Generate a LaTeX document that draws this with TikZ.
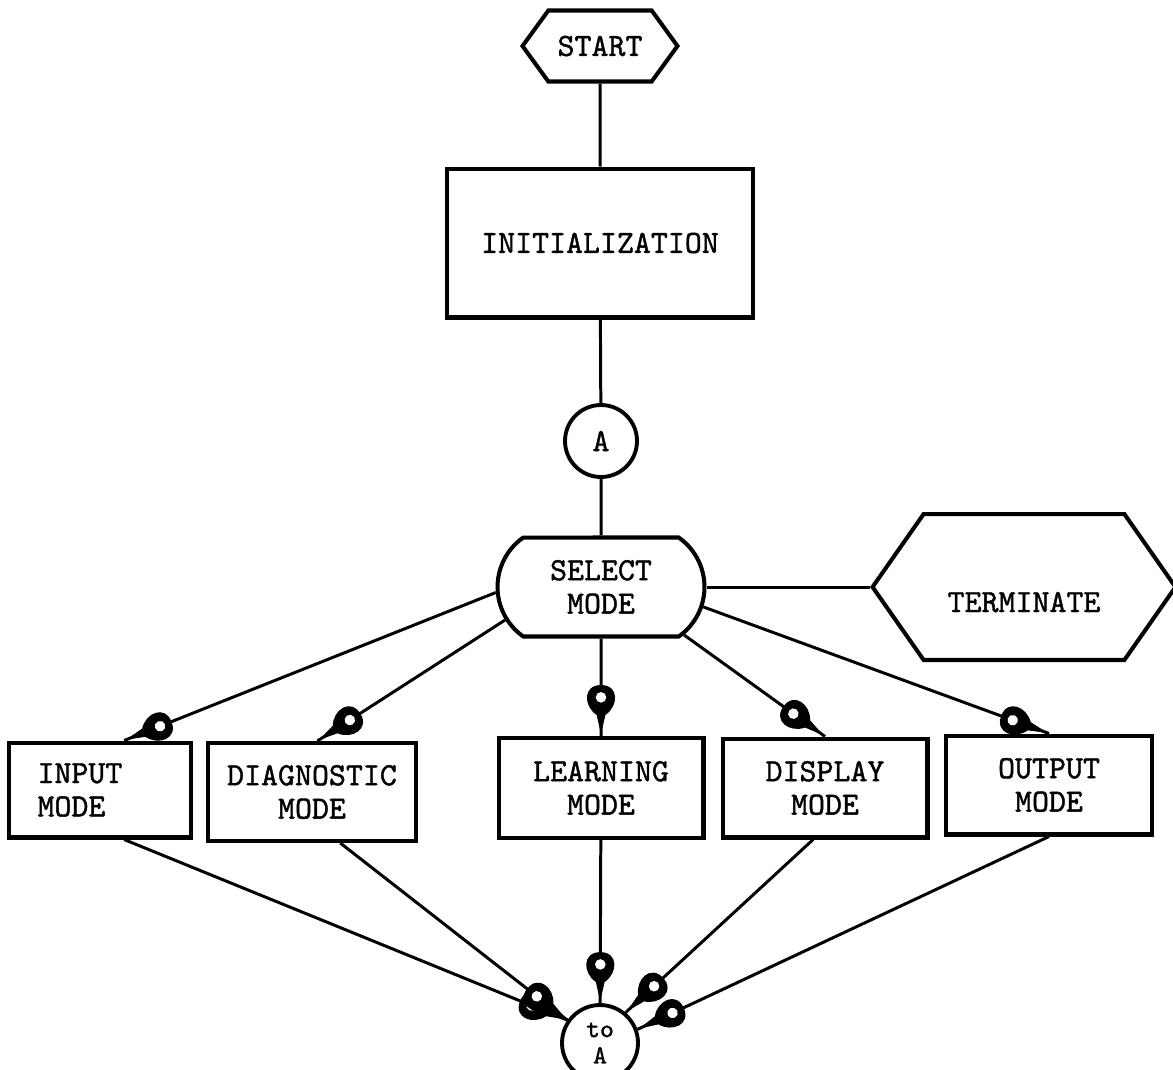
\documentclass[tikz,border=0pt]{standalone}
\usepackage{fontspec}
\setmonofont[FakeBold=1.2]{lmmono10-regular.otf}
\usetikzlibrary{shapes.symbols,shapes.misc,decorations.markings}

\newcommand{\chartfont}{\ttfamily\fontsize{18.4}{19}\selectfont}
% the funnel shaped arrow head, tip at the origin
\newcommand{\funnel}{%
  \fill (0,0) -- (-11pt,2.5pt) .. controls (-16pt,10pt) and (-28pt,10.5pt) .. (-28pt,0)
        .. controls (-28pt,-10.5pt) and (-16pt,-10pt) .. (-11pt,-2.5pt) -- cycle;
  \fill[white] (-21pt,0) circle (3pt);}

\tikzset{
  box/.style={draw, line width=2.3pt, inner sep=0pt, font=\chartfont, align=center},
  hexbox/.style={box, signal, signal to=west and east},
  conn/.style={draw, circle, line width=2.2pt, inner sep=0pt, font=\chartfont, align=center},
  link/.style={line width=1.7pt},
  flowto/.style={link, postaction={decorate}, decoration={markings,
      mark=at position -1pt with {\funnel}}}
}

\begin{document}
\begin{tikzpicture}[x=0.02cm, y=-0.02cm]
\useasboundingbox (0,0) rectangle (1173,1069);

% top of the chart
\node[hexbox, minimum width=3.1cm, minimum height=1.42cm, signal pointer angle=108] (start) at (600,46) {START};
\node[box, minimum width=6.12cm, minimum height=2.98cm] (init) at (600,243) {INITIALIZATION};
\node[conn, minimum size=1.44cm] (a) at (601,441) {A};
\node[box, rounded rectangle, rounded rectangle arc length=110, minimum width=4.14cm, minimum height=1.98cm] (select) at (601,587) {SELECT\\MODE};
\node[hexbox, minimum width=6.06cm, minimum height=2.92cm, signal pointer angle=110] (term) at (1024,587) {\raisebox{-0.5cm}[0pt][0pt]{TERMINATE}};

% the five modes
\node[box, minimum width=3.64cm, minimum height=1.9cm, text width=2.5cm, align=left] (input) at (100,790) {INPUT\\MODE};
\node[box, minimum width=4.16cm, minimum height=1.96cm] (diag) at (312,792) {DIAGNOSTIC\\MODE};
\node[box, minimum width=4.1cm, minimum height=2cm] (learn) at (601,788) {LEARNING\\MODE};
\node[box, minimum width=4.1cm, minimum height=1.98cm] (disp) at (825,788) {DISPLAY\\MODE};
\node[box, minimum width=4.12cm, minimum height=1.98cm] (output) at (1049,785) {OUTPUT\\MODE};

\node[conn, minimum size=1.52cm, font=\ttfamily\fontsize{15}{15}\selectfont] (toa) at (600,1043) {to\\A};

% connectors
\draw[link] (start) -- (init);
\draw[link] (init) -- (a);
\draw[link] (a) -- (select);
\draw[link] (select.east) -- (term.west);

\draw[flowto] (select.183) -- (input.64);
\draw[flowto] (select.199) -- (diag.84);
\draw[flowto] (select) -- (learn);
\draw[flowto] (select.330) -- (disp.north);
\draw[flowto] (select.349) -- (output.north);

\draw[flowto] (input.296) -- (toa.145);
\draw[flowto] (diag.299) -- (toa.145);
\draw[flowto] (learn) -- (toa);
\draw[flowto] (disp.257) -- (toa.50);
\draw[flowto] (output.south) -- (toa.20);

\end{tikzpicture}
\end{document}
